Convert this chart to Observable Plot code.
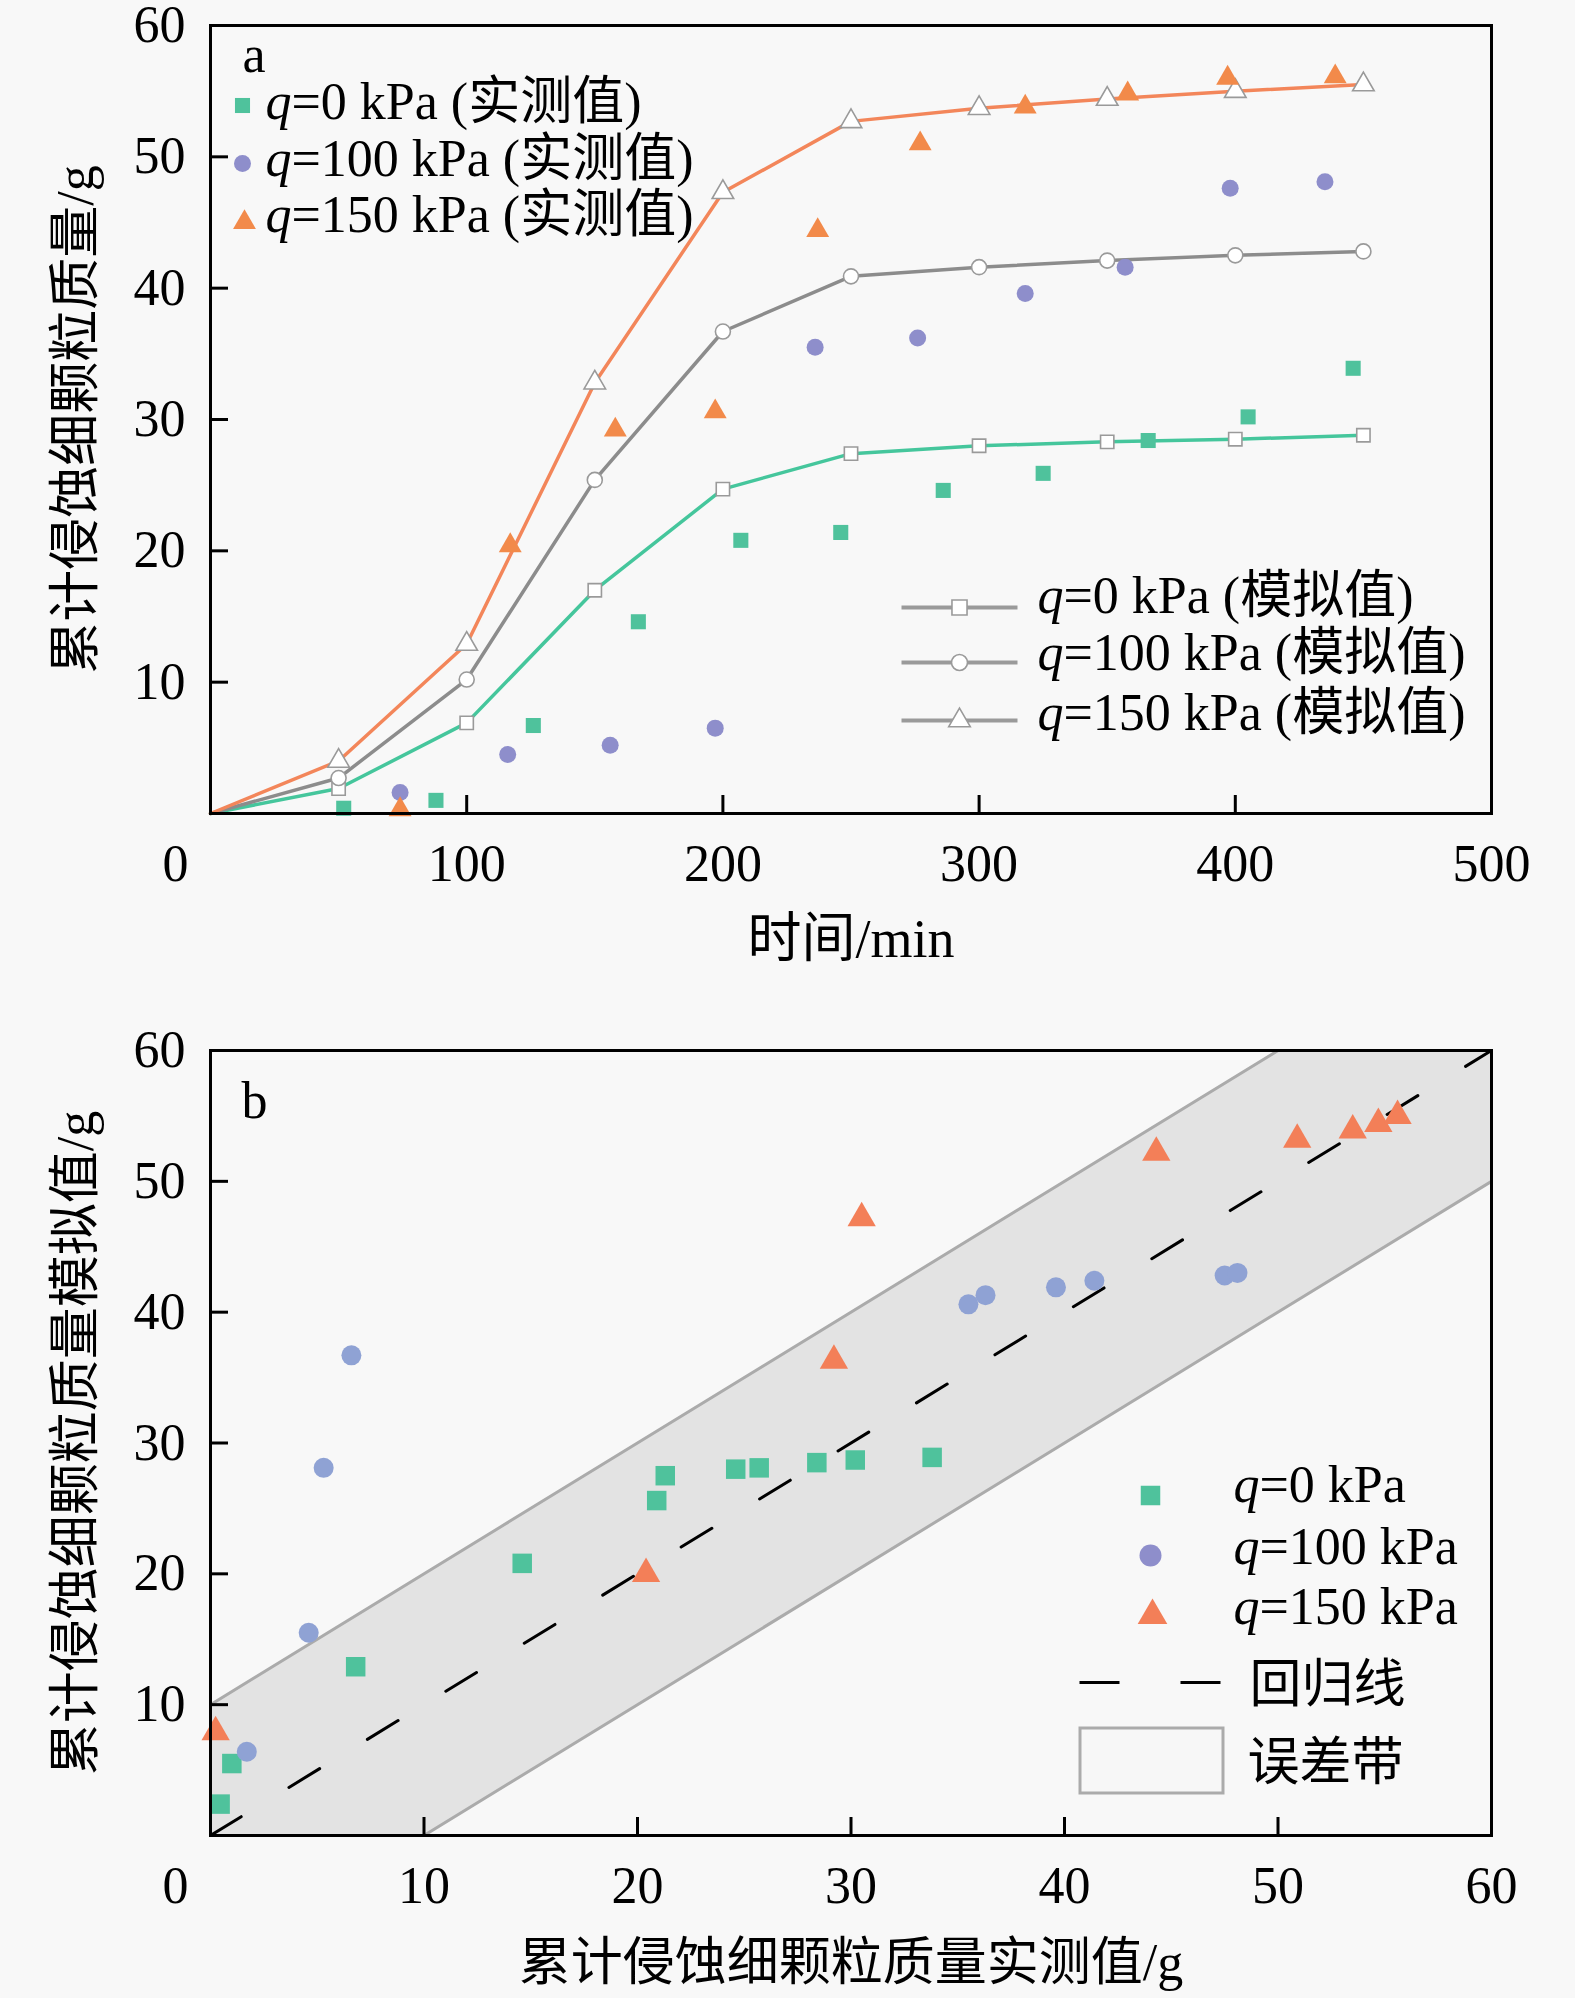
<!DOCTYPE html>
<html><head><meta charset="utf-8">
<script src="https://cdn.jsdelivr.net/npm/d3@7"></script>
<script src="https://cdn.jsdelivr.net/npm/@observablehq/plot@0.6"></script>
<style>
body{margin:0;background:#f8f8f8;}
#chart{width:1575px;}
#chart svg{display:block;}
</style></head><body><div id="chart"></div>
<script>
// ---------- Panel a data ----------
const simTime   = [0, 50, 100, 150, 200, 250, 300, 350, 400, 450];
const sim0      = [0, 1.9, 6.9, 17.0, 24.7, 27.4, 28.0, 28.3, 28.5, 28.8];
const sim100    = [0, 2.7, 10.2, 25.4, 36.7, 40.9, 41.6, 42.1, 42.5, 42.8];
const sim150    = [0, 4.0, 12.9, 32.8, 47.3, 52.7, 53.7, 54.4, 55.0, 55.5];
const meas0Time   = [52, 88, 126, 167, 207, 246, 286, 325, 366, 405, 446];
const meas0       = [0.4, 1.0, 6.7, 14.6, 20.8, 21.4, 24.6, 25.9, 28.4, 30.2, 33.9];
const meas100Time = [74, 116, 156, 197, 236, 276, 318, 357, 398, 435];
const meas100     = [1.6, 4.5, 5.2, 6.5, 35.5, 36.2, 39.6, 41.6, 47.6, 48.1];
const meas150Time = [74, 117, 158, 197, 237, 277, 318, 358, 397, 439];
const meas150     = [0.3, 20.4, 29.2, 30.6, 44.4, 51.0, 53.8, 54.8, 56.0, 56.1];
const xTicksA = [0, 100, 200, 300, 400, 500];
const yTicks  = [10, 20, 30, 40, 50, 60];

// ---------- Panel b data ----------
const b0x   = [0.45, 1.0, 6.8, 14.6, 20.9, 21.3, 24.6, 25.7, 28.4, 30.2, 33.8];
const b0y   = [2.4, 5.5, 12.9, 20.8, 25.6, 27.5, 28.0, 28.1, 28.5, 28.7, 28.9];
const b100x = [1.7, 4.6, 5.3, 6.6, 35.5, 36.3, 39.6, 41.4, 47.5, 48.1];
const b100y = [6.4, 15.5, 28.1, 36.7, 40.6, 41.3, 41.9, 42.4, 42.8, 43.0];
const b150x = [0.24, 20.4, 29.2, 30.5, 44.3, 50.9, 53.5, 54.7, 55.6];
const b150y = [7.9, 20.0, 36.3, 47.2, 52.2, 53.2, 53.9, 54.4, 55.0];
const bandX    = [0, 60];
const bandLow  = [-10, 50];
const bandHigh = [10, 70];
const regX = [0, 60];
const regY = [0, 60];
const xTicksB = [0, 10, 20, 30, 40, 50, 60];

// ---------- styles ----------
const C0 = "#4fc29c", C100a = "#8e8ecb", C150 = "#f28a4a";
const L0 = "#45c69c", L100 = "#8c8c8c", L150 = "#f3865a";
const C100b = "#8fa2d4", C150b = "#f37f58";
const FONT = "'Liberation Serif','Times New Roman','Noto Sans CJK SC',serif";
const FS = 52;

const W = 1575;
const ML = 210, MR = 84;
const PW = W - ML - MR; // 1281

function zip(xs, ys){ return xs.map((x,i)=>({x, y: ys[i]})); }

// ---------- Panel a ----------
const HA = 1000, MTA = 25, MBA = 187;
const PHA = HA - MTA - MBA; // 788
const ax = px => (px - ML) * 500 / PW;
const ay = py => (813 - py) * 60 / PHA;

const s0 = zip(simTime, sim0), s100 = zip(simTime, sim100), s150 = zip(simTime, sim150);
const m0 = zip(meas0Time, meas0), m100 = zip(meas100Time, meas100), m150 = zip(meas150Time, meas150);

const legA1Text = [
  {x: ax(265), y: ay(101.5), t: "q=0 kPa (实测值)"},
  {x: ax(265), y: ay(158.5), t: "q=100 kPa (实测值)"},
  {x: ax(265), y: ay(215), t: "q=150 kPa (实测值)"}
];
const legA2 = [
  {x1: ax(901), x2: ax(1017), y: ay(607)},
  {x1: ax(901), x2: ax(1017), y: ay(662)},
  {x1: ax(901), x2: ax(1017), y: ay(720)}
];
const legA2Text = [
  {x: ax(1037), y: ay(596), t: "q=0 kPa (模拟值)"},
  {x: ax(1037), y: ay(653), t: "q=100 kPa (模拟值)"},
  {x: ax(1037), y: ay(713), t: "q=150 kPa (模拟值)"}
];

const hollow = {fill: "white", stroke: "#9a9a9a", strokeWidth: 1.6};
const one = [0];

const plotA = Plot.plot({
  width: W, height: HA,
  marginLeft: ML, marginRight: MR, marginTop: MTA, marginBottom: MBA,
  style: {background: "#f8f8f8", fontFamily: FONT, fontSize: FS + "px", color: "black"},
  x: {domain: [0, 500]},
  y: {domain: [0, 60]},
  marks: [
    Plot.line(s0, {x: "x", y: "y", stroke: L0, strokeWidth: 3.5}),
    Plot.line(s100, {x: "x", y: "y", stroke: L100, strokeWidth: 3.5}),
    Plot.line(s150, {x: "x", y: "y", stroke: L150, strokeWidth: 3.5}),
    Plot.dot(s0.filter(d => d.x > 0), {x: "x", y: "y", symbol: "square", r: 7.5, ...hollow}),
    Plot.dot(s100.filter(d => d.x > 0), {x: "x", y: "y", symbol: "circle", r: 7.5, ...hollow}),
    Plot.dot(s150.filter(d => d.x > 0), {x: "x", y: "y", symbol: "triangle", r: 8, ...hollow}),
    Plot.dot(m0, {x: "x", y: "y", symbol: "square", r: 8.5, fill: C0}),
    Plot.dot(m100, {x: "x", y: "y", symbol: "circle", r: 8.5, fill: C100a}),
    Plot.dot(m150, {x: "x", y: "y", symbol: "triangle", r: 8.5, fill: C150}),
    // legends
    Plot.text(["a"], {x: ax(242), y: ay(55), text: d => d, textAnchor: "start", fontSize: FS}),
    Plot.dot(one, {x: ax(242), y: ay(105), symbol: "square", r: 8.5, fill: C0}),
    Plot.dot(one, {x: ax(242), y: ay(163), symbol: "circle", r: 8.5, fill: C100a}),
    Plot.dot(one, {x: ax(244), y: ay(222), symbol: "triangle", r: 8.5, fill: C150}),
    Plot.text(legA1Text, {x: "x", y: "y", text: "t", textAnchor: "start", fontSize: FS}),
    Plot.link(legA2, {x1: "x1", x2: "x2", y1: "y", y2: "y", stroke: "#9a9a9a", strokeWidth: 4}),
    Plot.dot([legA2[0]], {x: d => (d.x1 + d.x2) / 2, y: "y", symbol: "square", r: 8.5, ...hollow}),
    Plot.dot([legA2[1]], {x: d => (d.x1 + d.x2) / 2, y: "y", symbol: "circle", r: 8, ...hollow}),
    Plot.dot([legA2[2]], {x: d => (d.x1 + d.x2) / 2, y: "y", symbol: "triangle", r: 8, ...hollow}),
    Plot.text(legA2Text, {x: "x", y: "y", text: "t", textAnchor: "start", fontSize: FS}),
    // ticks inward
    Plot.tickY(yTicks.slice(0, 5), {y: d => d, insetRight: PW - 18, stroke: "black", strokeWidth: 3}),
    Plot.tickX(xTicksA.slice(1, 5), {x: d => d, insetTop: PHA - 18, stroke: "black", strokeWidth: 3}),
    Plot.frame({stroke: "black", strokeWidth: 3}),
    Plot.axisY({ticks: yTicks, tickSize: 0, tickPadding: 25, label: null, fontSize: FS}),
    Plot.axisX({ticks: xTicksA.slice(1), tickSize: 0, tickPadding: 31, label: null, fontSize: FS}),
    Plot.axisX({ticks: [0], tickSize: 0, tickPadding: 31, dx: -35, label: null, fontSize: FS}),
    Plot.text(["时间/min"], {frameAnchor: "bottom", dy: 126, textAnchor: "middle", lineAnchor: "middle", text: d => d, fontSize: 54}),
    Plot.text(["累计侵蚀细颗粒质量/g"], {frameAnchor: "left", dx: -134, rotate: -90, textAnchor: "middle", lineAnchor: "middle", text: d => d, fontSize: FS})
  ]
});

// ---------- Panel b ----------
const HB = 998, MTB = 50, MBB = 163;
const PHB = HB - MTB - MBB; // 785
const bx = px => (px - ML) * 60 / PW;
const by = pyPage => (1835 - pyPage) * 60 / PHB;

const p0 = zip(b0x, b0y), p100 = zip(b100x, b100y), p150 = zip(b150x, b150y);
const band = bandX.map((x, i) => ({x, lo: bandLow[i], hi: bandHigh[i]}));
const reg = zip(regX, regY);

const legBText = [
  {x: bx(1233), y: by(1485), t: "q=0 kPa"},
  {x: bx(1233), y: by(1547), t: "q=100 kPa"},
  {x: bx(1233), y: by(1607), t: "q=150 kPa"},
  {x: bx(1249), y: by(1685), t: "回归线"},
  {x: bx(1247), y: by(1763), t: "误差带"}
];

const plotB = Plot.plot({
  width: W, height: HB,
  marginLeft: ML, marginRight: MR, marginTop: MTB, marginBottom: MBB,
  style: {background: "#f8f8f8", fontFamily: FONT, fontSize: FS + "px", color: "black"},
  x: {domain: [0, 60]},
  y: {domain: [0, 60]},
  marks: [
    Plot.areaY(band, {x: "x", y1: "lo", y2: "hi", fill: "#e3e3e3", clip: true}),
    Plot.line(band, {x: "x", y: "lo", stroke: "#ababab", strokeWidth: 3, clip: true}),
    Plot.line(band, {x: "x", y: "hi", stroke: "#ababab", strokeWidth: 3, clip: true}),
    Plot.line(reg, {x: "x", y: "y", stroke: "black", strokeWidth: 3, strokeDasharray: "36,56", clip: true}),
    Plot.dot(p0, {x: "x", y: "y", symbol: "square", r: 11, fill: C0}),
    Plot.dot(p100, {x: "x", y: "y", symbol: "circle", r: 10, fill: C100b}),
    Plot.dot(p150, {x: "x", y: "y", symbol: "triangle", r: 10.5, fill: C150b}),
    // legend
    Plot.text(["b"], {x: bx(241), y: by(1101), text: d => d, textAnchor: "start", fontSize: FS}),
    Plot.dot(one, {x: bx(1150), y: by(1495), symbol: "square", r: 11, fill: C0}),
    Plot.dot(one, {x: bx(1150), y: by(1555), symbol: "circle", r: 11, fill: C100a}),
    Plot.dot(one, {x: bx(1152), y: by(1615), symbol: "triangle", r: 11, fill: C150b}),
    Plot.link([{x1: bx(1079), x2: bx(1222), y: by(1682)}], {x1: "x1", x2: "x2", y1: "y", y2: "y", stroke: "black", strokeWidth: 3, strokeDasharray: "40,61"}),
    Plot.rect([{x1: bx(1080), x2: bx(1223), y1: by(1793), y2: by(1728)}], {x1: "x1", x2: "x2", y1: "y1", y2: "y2", fill: "#f7f7f7", stroke: "#ababab", strokeWidth: 3}),
    Plot.text(legBText, {x: "x", y: "y", text: "t", textAnchor: "start", fontSize: FS}),
    // ticks inward
    Plot.tickY(yTicks.slice(0, 5), {y: d => d, insetRight: PW - 18, stroke: "black", strokeWidth: 3}),
    Plot.tickX(xTicksB.slice(1, 6), {x: d => d, insetTop: PHB - 18, stroke: "black", strokeWidth: 3}),
    Plot.frame({stroke: "black", strokeWidth: 3}),
    Plot.axisY({ticks: yTicks, tickSize: 0, tickPadding: 25, label: null, fontSize: FS}),
    Plot.axisX({ticks: xTicksB.slice(1), tickSize: 0, tickPadding: 31, label: null, fontSize: FS}),
    Plot.axisX({ticks: [0], tickSize: 0, tickPadding: 31, dx: -35, label: null, fontSize: FS}),
    Plot.text(["累计侵蚀细颗粒质量实测值/g"], {frameAnchor: "bottom", dy: 128, textAnchor: "middle", lineAnchor: "middle", text: d => d, fontSize: FS}),
    Plot.text(["累计侵蚀细颗粒质量模拟值/g"], {frameAnchor: "left", dx: -134, rotate: -90, textAnchor: "middle", lineAnchor: "middle", text: d => d, fontSize: FS})
  ]
});

const chart = document.getElementById("chart");
chart.appendChild(plotA);
chart.appendChild(plotB);

// italic "q"
const NS = "http://www.w3.org/2000/svg";
chart.querySelectorAll("text").forEach(t => {
  const s = t.textContent;
  if (s.startsWith("q=") && t.children.length === 0) {
    t.textContent = "";
    const a = document.createElementNS(NS, "tspan");
    a.setAttribute("font-style", "italic");
    a.textContent = "q";
    const b = document.createElementNS(NS, "tspan");
    b.textContent = s.slice(1);
    t.appendChild(a); t.appendChild(b);
  }
});
</script>
</body></html>
